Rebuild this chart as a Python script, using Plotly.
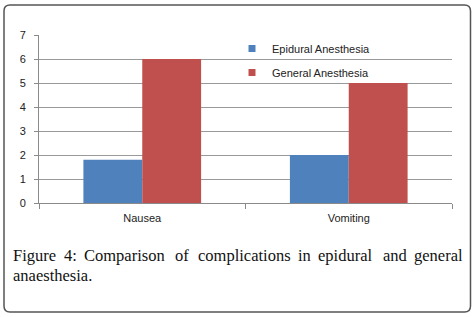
import plotly.graph_objects as go

categories = ["Nausea", "Vomiting"]
epidural = [1.8, 2.0]
general = [6.0, 5.0]
series_names = ["Epidural Anesthesia", "General Anesthesia"]
colors = ["#4F81BD", "#C0504D"]
caption_line1 = ["Figure", "4:", "Comparison", "of", "complications", "in", "epidural", "and", "general"]
caption_line1_x = [12, 63, 83, 174, 197, 297, 317, 382, 413]
caption_line2 = "anaesthesia."

W, H = 474, 317
L, R, T, B = 39, 452, 35, 203

def px(x):
    return (x - L) / (R - L)

def py(y):
    return (B - y) / (B - T)

fig = go.Figure()
for name, vals, c in zip(series_names, [epidural, general], colors):
    fig.add_trace(go.Bar(x=categories, y=vals, name=name, marker=dict(color=c, line=dict(width=0)),
                         showlegend=False))
for name, c in zip(series_names, colors):
    fig.add_trace(go.Scatter(x=[None], y=[None], mode="markers", name=name, legendgroup=name,
                             marker=dict(symbol="square", size=7, color=c)))

fig.update_layout(
    width=W, height=H,
    margin=dict(l=L, r=W - R, t=T, b=H - B),
    paper_bgcolor="white", plot_bgcolor="white",
    barmode="group", bargap=0.43, bargroupgap=0,
    font=dict(family="Liberation Sans", size=11, color="#222"),
    legend=dict(x=px(232), y=py(34), xanchor="left", yanchor="top",
                bgcolor="rgba(0,0,0,0)", font=dict(size=11, color="#222"),
                itemwidth=30, tracegroupgap=5, traceorder="grouped"),
    xaxis=dict(showline=True, linecolor="#8a8a8a", linewidth=1, ticks="outside",
               tickson="boundaries", ticklen=5, tickcolor="#8a8a8a", showgrid=False,
               ticklabelstandoff=5),
    yaxis=dict(range=[0, 7], dtick=1, showline=True, linecolor="#8a8a8a", linewidth=1,
               ticks="outside", ticklen=4, tickcolor="#8a8a8a", showgrid=True,
               gridcolor="#9a9a9a", gridwidth=1, zeroline=False, ticklabelstandoff=6),
)

# rounded border
x0, x1, y0, y1, r = 4, 470.5, 5, 312, 6
def P(x, y):
    return f"{px(x):.5f},{py(y):.5f}"
path = (f"M {P(x0 + r, y0)} L {P(x1 - r, y0)} Q {P(x1, y0)} {P(x1, y0 + r)} "
        f"L {P(x1, y1 - r)} Q {P(x1, y1)} {P(x1 - r, y1)} "
        f"L {P(x0 + r, y1)} Q {P(x0, y1)} {P(x0, y1 - r)} "
        f"L {P(x0, y0 + r)} Q {P(x0, y0)} {P(x0 + r, y0)} Z")
fig.add_shape(type="path", path=path, xref="paper", yref="paper",
              line=dict(color="#555555", width=1.5), layer="above")

cap_font = dict(family="Liberation Serif", size=16.5, color="#111")
for w, x in zip(caption_line1, caption_line1_x):
    fig.add_annotation(text=w, x=px(x), y=py(255), xref="paper", yref="paper",
                       xanchor="left", yanchor="middle", showarrow=False, font=cap_font,
                       borderpad=0)
fig.add_annotation(text=caption_line2, x=px(12), y=py(275), xref="paper", yref="paper",
                   xanchor="left", yanchor="middle", showarrow=False, font=cap_font, borderpad=0)

fig.write_html("out.html", config={"displayModeBar": False},
               post_script="document.body.style.margin='0';")
